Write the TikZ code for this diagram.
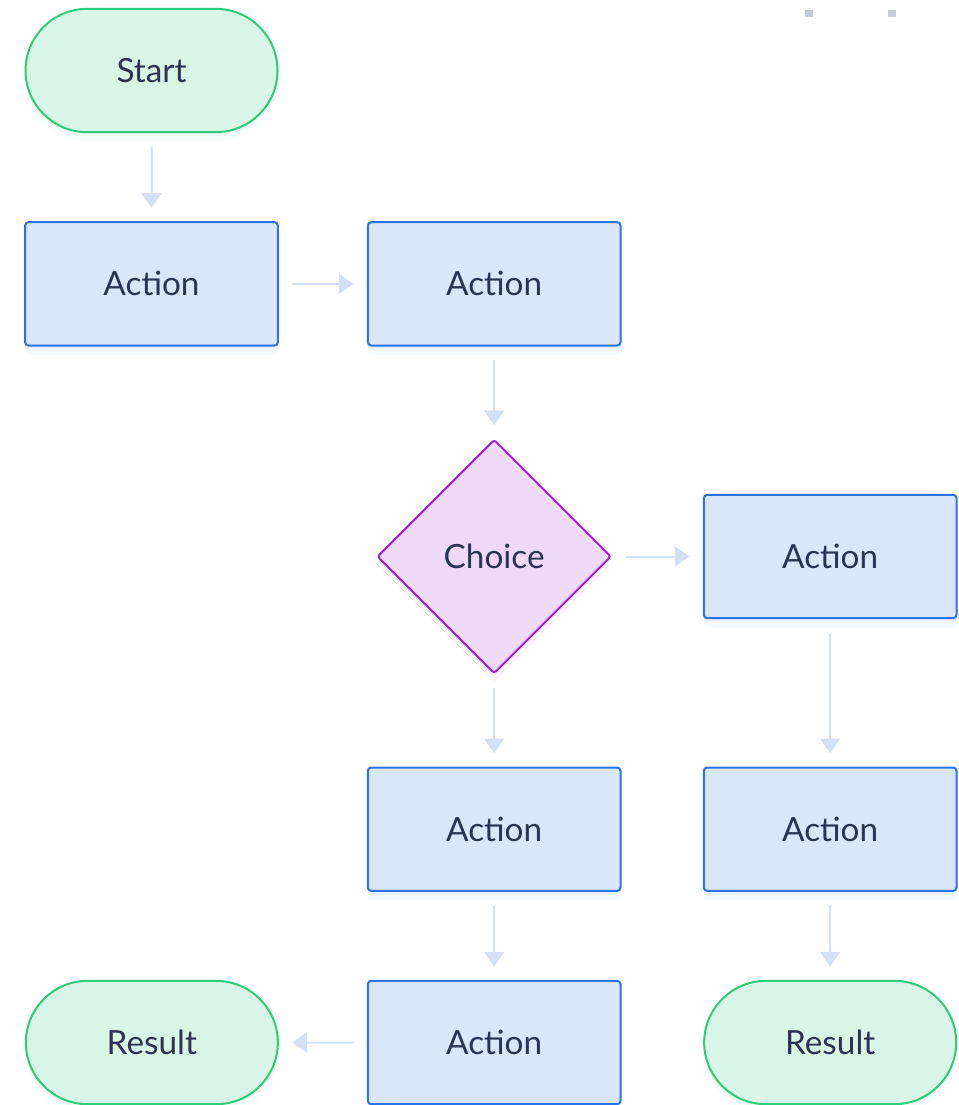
\documentclass[tikz,border=0pt]{standalone}
\usepackage{fontspec}
\setmainfont{Lato}
\definecolor{ActionFill}{RGB}{218,230,249}
\definecolor{ActionDraw}{RGB}{43,116,230}
\definecolor{TermFill}{RGB}{216,245,230}
\definecolor{TermDraw}{RGB}{46,204,122}
\definecolor{ChoiceFill}{RGB}{239,217,248}
\definecolor{ChoiceDraw}{RGB}{160,32,224}
\definecolor{TextColor}{RGB}{43,52,82}
\definecolor{ArrowColor}{RGB}{213,223,246}
\definecolor{DotColor}{RGB}{200,204,214}
\usetikzlibrary{shapes.geometric, shapes.misc, arrows.meta, positioning, shadows}
\tikzset{
    base/.style={
        draw,
        line width=1.5pt,
        minimum width=189.5pt,
        minimum height=92.5pt,
        align=center,
        font=\fontsize{25}{30}\selectfont,
        text=TextColor,
        inner sep=4pt
    },
    glow/.style={
        drop shadow={shadow xshift=0pt, shadow yshift=-3pt, fill=#1, opacity=0.06},
        drop shadow={shadow xshift=0pt, shadow yshift=-7pt, fill=#1, opacity=0.04}
    },
    action/.style={base, rectangle, rounded corners=2.5pt, fill=ActionFill, draw=ActionDraw, glow=ActionDraw},
    terminal/.style={base, rounded rectangle, minimum width=197pt, fill=TermFill, draw=TermDraw, glow=TermDraw},
    choice/.style={base, diamond, minimum width=175.5pt, minimum height=175.5pt, rounded corners=2pt,
        fill=ChoiceFill, draw=ChoiceDraw, glow=ChoiceDraw},
    arrow/.style={-{Triangle[length=11pt, width=15pt]}, line width=1.5pt, draw=ArrowColor,
        shorten <=10pt, shorten >=10pt}
}
\begin{document}
\begin{tikzpicture}[x=0.75pt, y=-0.75pt, node distance=66pt]
        \useasboundingbox (0,0) rectangle (958,1105);

        % decorative dots
        \fill[DotColor] (805,10) rectangle (813,17);
        \fill[DotColor] (888,10) rectangle (896,17);

        \node[terminal] (start) at (151.5,70.5) {Start};
        \node[action, below=of start] (act1) {Action};
        \node[action, right=of act1] (act2) {Action};
        \node[choice, below=69pt of act2] (choice) {Choice};
        \node[action, right=68pt of choice] (act3) {Action};
        \node[action, below=69pt of choice] (act4) {Action};
        \node[action] (act5) at (act3 |- act4) {Action};
        \node[action, below=of act4] (act6) {Action};
        \node[terminal, left=of act6] (res1) {Result};
        \node[terminal, below=of act5] (res2) {Result};

        \draw[arrow] (start) -- (act1);
        \draw[arrow] (act1) -- (act2);
        \draw[arrow] (act2) -- (choice);
        \draw[arrow] (choice) -- (act3);
        \draw[arrow] (choice) -- (act4);
        \draw[arrow] (act3) -- (act5);
        \draw[arrow] (act4) -- (act6);
        \draw[arrow] (act5) -- (res2);
        \draw[arrow] (act6) -- (res1);

\end{tikzpicture}
\end{document}
